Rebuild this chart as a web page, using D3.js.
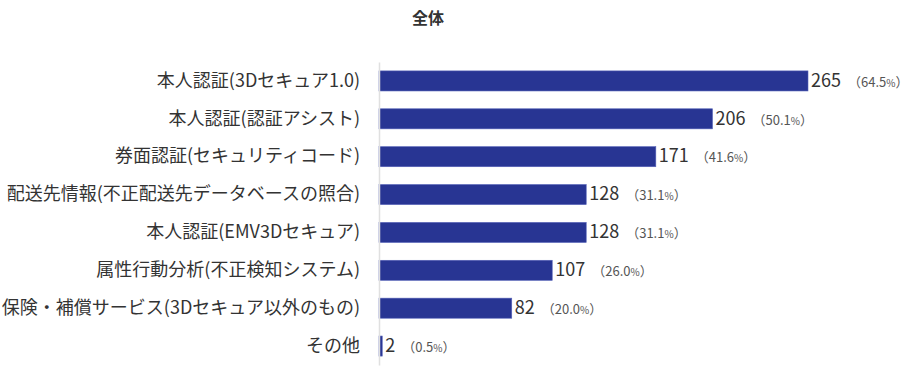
<!DOCTYPE html>
<html>
<head>
<meta charset="utf-8">
<script src="https://cdn.jsdelivr.net/npm/d3@7"></script>
<style>
  body { margin: 0; background: #fff; }
  text { font-family: "Noto Sans CJK JP", "Noto Sans", sans-serif; }
</style>
</head>
<body>
<div id="chart"></div>
<script>
// Chart data
var categories = [
    "本人認証(3Dセキュア1.0)",
    "本人認証(認証アシスト)",
    "券面認証(セキュリティコード)",
    "配送先情報(不正配送先データベースの照合)",
    "本人認証(EMV3Dセキュア)",
    "属性行動分析(不正検知システム)",
    "保険・補償サービス(3Dセキュア以外のもの)",
    "その他"
];
var counts = [265, 206, 171, 128, 128, 107, 82, 2];
var percents = ["64.5", "50.1", "41.6", "31.1", "31.1", "26.0", "20.0", "0.5"];

var svg = d3.select("#chart").append("svg").attr("width", 922).attr("height", 390);

// Margins
var margin = {top: 62, left: 379, right: 114, bottom: 25};
var height = 390 - margin.top - margin.bottom;

var xScale = d3.scaleLinear()
    .domain([0, 265])
    .range([0, 429]);

var yScale = d3.scaleBand()
    .domain(categories)
    .range([0, height])
    .paddingInner(0.47)
    .paddingOuter(0.235);

var g = svg.append("g")
    .attr("transform", "translate(" + [margin.left, margin.top] + ")");

// Title
svg.append("text")
    .attr("x", 428)
    .attr("y", 24)
    .attr("text-anchor", "middle")
    .attr("font-size", 16)
    .attr("font-weight", "bold")
    .attr("fill", "#333")
    .text("全体");

// Bars
g.selectAll(".bar")
    .data(counts)
    .enter()
    .append("rect")
    .attr("class", "bar")
    .attr("x", 0)
    .attr("y", function(d, i) { return yScale(categories[i]); })
    .attr("width", function(d) { return xScale(d); })
    .attr("height", yScale.bandwidth())
    .attr("fill", "#283593")
    .attr("stroke", "#5562b8")
    .attr("stroke-width", 0.6);

// Category axis
var yAxis = d3.axisLeft(yScale).tickSize(0).tickPadding(19);
var yAxisG = g.append("g").call(yAxis);
yAxisG.select(".domain").attr("stroke", "#e0e0e0").attr("stroke-width", 1.5);
yAxisG.selectAll("text")
    .attr("font-size", 18)
    .attr("fill", "#333");

// Value labels
var labels = g.selectAll(".val")
    .data(counts)
    .enter()
    .append("text")
    .attr("class", "val")
    .attr("x", function(d) { return xScale(d) + 3; })
    .attr("y", function(d, i) { return yScale(categories[i]) + yScale.bandwidth() / 2; })
    .attr("dy", "0.36em");

labels.append("tspan")
    .attr("font-size", 18)
    .attr("fill", "#333")
    .text(function(d) { return d; });

labels.append("tspan")
    .attr("font-size", 13)
    .attr("fill", "#555")
    .attr("dx", 7)
    .text(function(d, i) { return "（" + percents[i]; });

labels.append("tspan")
    .attr("font-size", 10)
    .attr("fill", "#555")
    .text("%");

labels.append("tspan")
    .attr("font-size", 13)
    .attr("fill", "#555")
    .text("）");
</script>
</body>
</html>
